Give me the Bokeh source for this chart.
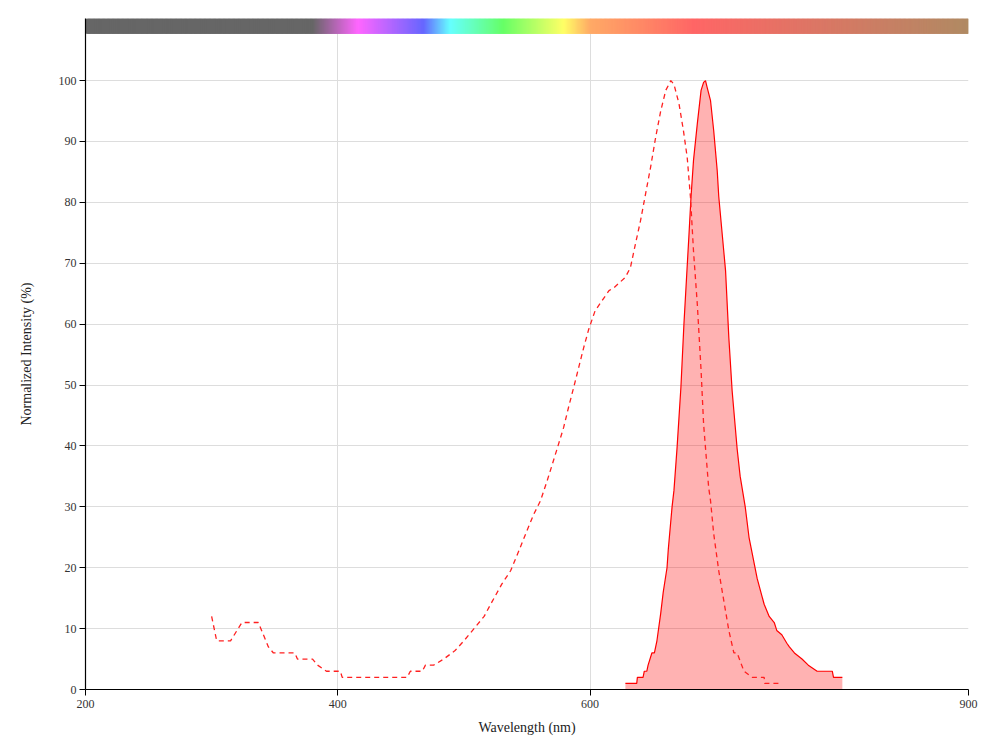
import numpy as np
from bokeh.plotting import figure
from bokeh.models import Range1d, FixedTicker, ColumnDataSource
from bokeh.embed import file_html
from bokeh.resources import INLINE

# Excitation spectrum (dashed)
ex_wl = [300, 304, 315, 324, 337, 345, 349, 366, 368, 380, 384, 391, 402, 403.5, 455, 457.5, 467, 469.5,
         476, 484, 493, 500, 508, 516, 522, 530, 537, 543.6, 550, 555.4, 560.7, 566, 571, 575, 579, 583, 587,
         591, 595, 599, 604, 609.6, 615, 619, 628, 632, 636, 640, 644, 648, 652, 656, 660, 664, 666.5,
         670.5, 674, 677, 679.6, 682, 685, 688, 690, 694, 695.5, 698, 702, 706, 710, 714, 716.6, 722, 728.5,
         738, 738.5, 751]
ex_val = [12, 8, 8, 11, 11, 7, 6, 6, 5, 5, 4, 3, 3, 2, 2, 3, 3, 4,
          4, 5, 6.4, 8, 10, 12, 14.3, 17.3, 19.5, 22.8, 26.1, 28.8, 31, 34.3, 37.6, 40.3, 43, 46.4, 49.6,
          52.9, 56.2, 59.2, 62.2, 63.9, 65.5, 66, 67.7, 69.3, 73.2, 77, 81.4, 85.8, 90.7, 95, 98.4, 100, 99.4,
          96.2, 91.8, 87.4, 80.8, 72, 63.3, 52.4, 43.6, 33.2, 31, 25.6, 19.5, 14.6, 9.7, 6, 6, 3, 2,
          2, 1, 1]

# Emission spectrum (filled)
em_wl = [628, 637, 637.5, 642, 643, 645, 646, 649, 651, 653, 656, 658, 661, 662, 665, 666.5, 669, 672,
         674.4, 676.5, 678.3, 680, 682, 685, 688, 690, 691.5, 692.8, 695.5, 698, 700.8, 702, 707.4, 710,
         712.6, 716.6, 719, 723, 726, 732.5, 738, 742, 746, 748, 752, 756, 758, 762, 768, 773, 780, 792,
         793, 800]
em_val = [1, 1, 2, 2, 3, 3, 4, 6, 6, 8, 12.5, 16, 20, 23, 30, 32.7, 39.8, 49.6,
          60, 67.7, 74.3, 80.8, 86.9, 92.9, 98.4, 99.7, 100, 98.9, 96.7, 91.8, 85.2, 81, 68.8, 57.8,
          49.1, 39.5, 35, 30, 25, 18.2, 14, 12, 11, 9.7, 9, 7.6, 7, 6, 5, 4, 3, 3,
          2, 2]

x_ticks = [200, 400, 600, 900]
y_ticks = list(range(0, 101, 10))

# Spectrum bar colour stops
bar_stops_wl = [200, 380, 416, 468, 489, 531, 579, 600, 682, 900]
bar_stops_col = ["#666666", "#666666", "#ff66ff", "#6666ff", "#66ffff", "#66ff66", "#ffff66",
                 "#ffaa66", "#ff6666", "#b08a63"]

FONT = "Liberation Serif"

p = figure(width=983, height=748, output_backend="svg", toolbar_location=None,
           x_range=Range1d(200, 900), y_range=Range1d(0, 110.2),
           min_border_left=85, min_border_right=15, min_border_top=18, min_border_bottom=59)
p.outline_line_color = None
p.background_fill_color = "white"

# gradient bar
def hex2rgb(h):
    h = h.lstrip("#")
    return np.array([int(h[i:i + 2], 16) for i in (0, 2, 4)], dtype=float)

sw = np.arange(200, 900, 1.0)
rgbs = np.array([hex2rgb(c) for c in bar_stops_col])
cols = []
for w in sw + 0.5:
    r = np.interp(w, bar_stops_wl, rgbs[:, 0])
    g = np.interp(w, bar_stops_wl, rgbs[:, 1])
    b = np.interp(w, bar_stops_wl, rgbs[:, 2])
    cols.append("#%02x%02x%02x" % (int(round(r)), int(round(g)), int(round(b))))
bar_src = ColumnDataSource(dict(left=sw, right=np.minimum(sw + 2.5, 900), color=cols))
p.quad(left="left", right="right", bottom=107.7, top=110.2, fill_color="color", line_color=None,
       source=bar_src)

# emission fill + line
p.varea(x=em_wl, y1=0, y2=em_val, fill_color="#ff0000", fill_alpha=0.3)
p.line(em_wl, em_val, line_color="#ff0000", line_width=1.2)

# excitation dashed
p.line(ex_wl, ex_val, line_color="#ff2020", line_width=1.3, line_dash="5 4")

p.xaxis.ticker = FixedTicker(ticks=x_ticks)
p.yaxis.ticker = FixedTicker(ticks=y_ticks)
p.xgrid.ticker = FixedTicker(ticks=[400, 600, 900])
p.ygrid.ticker = FixedTicker(ticks=y_ticks[1:])
p.xgrid.grid_line_color = "#dddddd"
p.ygrid.grid_line_color = "#dddddd"
p.grid.level = "image"

for ax in (p.xaxis, p.yaxis):
    ax.axis_line_color = "black"
    ax.axis_line_width = 1.2
    ax.major_tick_line_color = "black"
    ax.major_tick_in = 0
    ax.major_tick_out = 6
    ax.minor_tick_line_color = None
    ax.major_label_text_font = FONT
    ax.major_label_text_font_size = "12px"
    ax.major_label_text_color = "#333333"
    ax.axis_label_text_font = FONT
    ax.axis_label_text_font_size = "14px"
    ax.axis_label_text_font_style = "normal"
    ax.axis_label_text_color = "#222222"

p.xaxis.axis_label = "Wavelength (nm)"
p.yaxis.axis_label = "Normalized Intensity (%)"
p.xaxis.axis_label_standoff = 9
p.yaxis.axis_label_standoff = 22
p.xaxis.major_label_standoff = 4
p.yaxis.major_label_standoff = 3

open("out.html", "w").write(file_html(p, INLINE))
